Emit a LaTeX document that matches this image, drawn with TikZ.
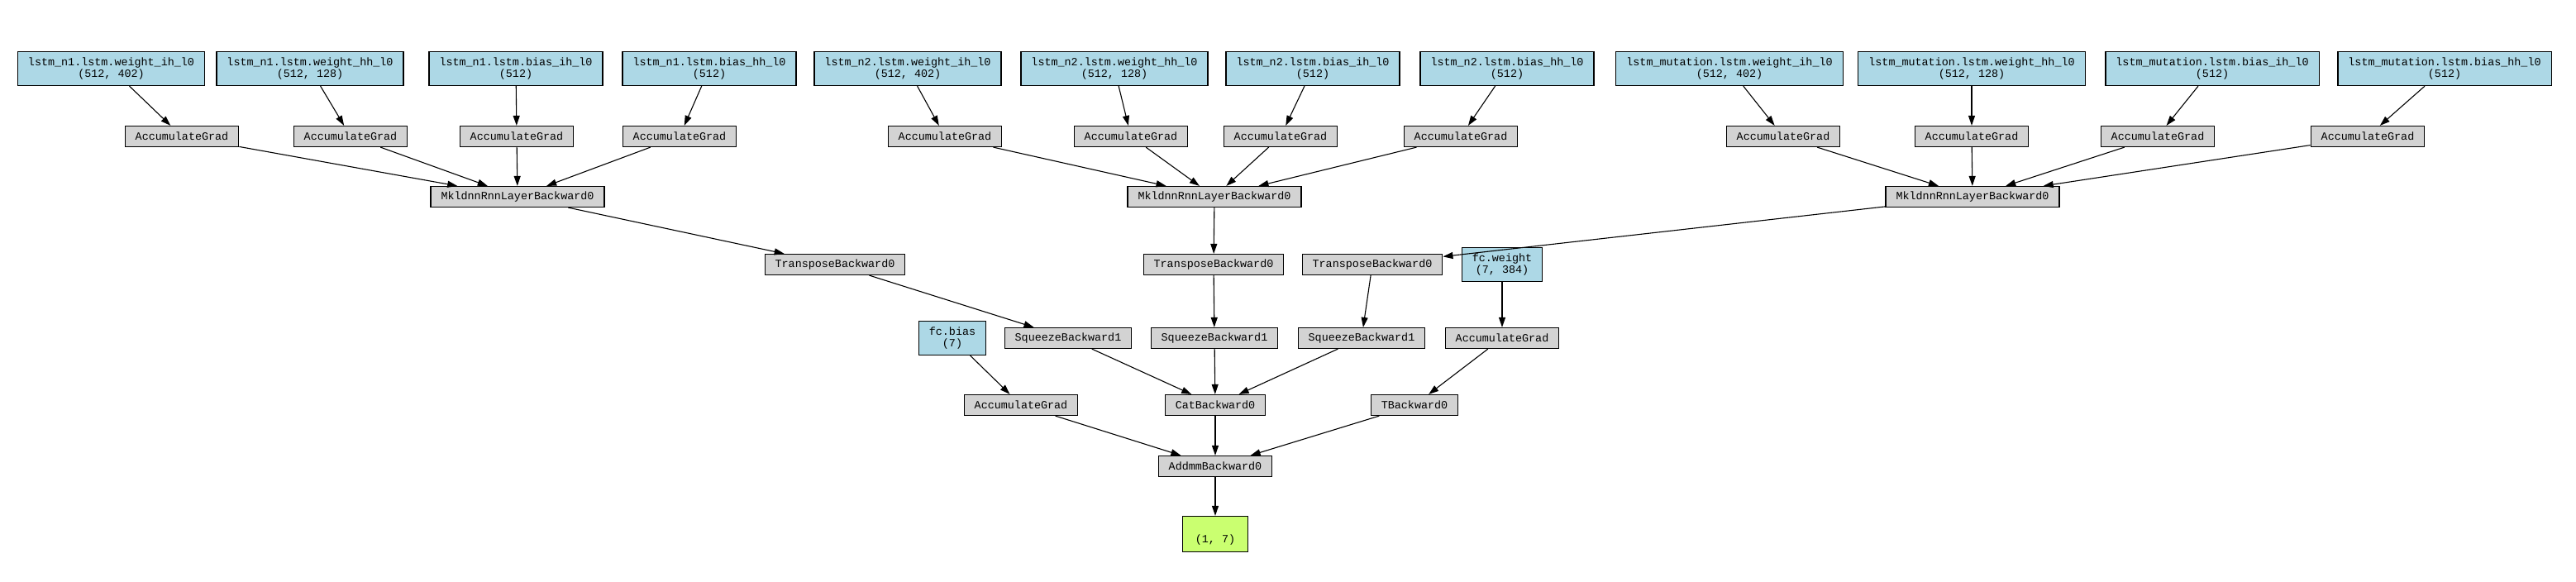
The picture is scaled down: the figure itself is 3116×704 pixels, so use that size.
\documentclass[tikz,border=0pt]{standalone}
\usepackage{fontspec}
\setmonofont{Liberation Mono}
\usetikzlibrary{arrows.meta}
\definecolor{paramblue}{HTML}{ADD8E6}
\definecolor{opgray}{HTML}{D3D3D3}
\definecolor{resgreen}{HTML}{CAFF70}

\begin{document}
\begin{tikzpicture}[x=1pt,y=-1pt,
    box/.style={draw,line width=1.2pt,align=center,inner xsep=12.5pt,inner ysep=0pt,
      minimum height=25pt,font=\ttfamily\fontsize{13.4}{14}\selectfont},
    param/.style={box,fill=paramblue,minimum height=41pt},
    gradop/.style={box,fill=opgray},
    result/.style={box,fill=resgreen,minimum width=79pt,minimum height=43pt},
    flow/.style={-{Triangle[length=12pt,width=8pt]},line width=1.1pt}]
    \useasboundingbox (0,0) rectangle (3116,704);
    % lstm_n1 参数
    \node[param] (n1wih) at (134.5,83) {lstm\_n1.lstm.weight\_ih\_l0\\(512, 402)};
    \node[param] (n1whh) at (375,83) {lstm\_n1.lstm.weight\_hh\_l0\\(512, 128)};
    \node[param] (n1bih) at (624,83) {lstm\_n1.lstm.bias\_ih\_l0\\(512)};
    \node[param] (n1bhh) at (858,83) {lstm\_n1.lstm.bias\_hh\_l0\\(512)};
    % lstm_n2 参数
    \node[param] (n2wih) at (1098,83) {lstm\_n2.lstm.weight\_ih\_l0\\(512, 402)};
    \node[param] (n2whh) at (1348,83) {lstm\_n2.lstm.weight\_hh\_l0\\(512, 128)};
    \node[param] (n2bih) at (1588,83) {lstm\_n2.lstm.bias\_ih\_l0\\(512)};
    \node[param] (n2bhh) at (1823,83) {lstm\_n2.lstm.bias\_hh\_l0\\(512)};
    % lstm_mutation 参数
    \node[param] (mwih) at (2092,83) {lstm\_mutation.lstm.weight\_ih\_l0\\(512, 402)};
    \node[param] (mwhh) at (2385,83) {lstm\_mutation.lstm.weight\_hh\_l0\\(512, 128)};
    \node[param] (mbih) at (2676,83) {lstm\_mutation.lstm.bias\_ih\_l0\\(512)};
    \node[param] (mbhh) at (2957,83) {lstm\_mutation.lstm.bias\_hh\_l0\\(512)};
    % AccumulateGrad
    \node[gradop] (ag1) at (220,165) {AccumulateGrad};
    \node[gradop] (ag2) at (424,165) {AccumulateGrad};
    \node[gradop] (ag3) at (625,165) {AccumulateGrad};
    \node[gradop] (ag4) at (822,165) {AccumulateGrad};
    \node[gradop] (ag5) at (1143,165) {AccumulateGrad};
    \node[gradop] (ag6) at (1368,165) {AccumulateGrad};
    \node[gradop] (ag7) at (1549,165) {AccumulateGrad};
    \node[gradop] (ag8) at (1767,165) {AccumulateGrad};
    \node[gradop] (ag9) at (2157,165) {AccumulateGrad};
    \node[gradop] (ag10) at (2385,165) {AccumulateGrad};
    \node[gradop] (ag11) at (2610,165) {AccumulateGrad};
    \node[gradop] (ag12) at (2864,165) {AccumulateGrad};
    % LSTM 层
    \node[gradop] (mkl1) at (626,238) {MkldnnRnnLayerBackward0};
    \node[gradop] (mkl2) at (1469,238) {MkldnnRnnLayerBackward0};
    \node[gradop] (mkl3) at (2386,238) {MkldnnRnnLayerBackward0};
    % 转置与压缩
    \node[gradop] (tr1) at (1010,320) {TransposeBackward0};
    \node[gradop] (tr2) at (1468,320) {TransposeBackward0};
    \node[gradop] (tr3) at (1660,320) {TransposeBackward0};
    \node[param] (fcw) at (1817,320) {fc.weight\\(7, 384)};
    \node[param] (fcb) at (1152,409) {fc.bias\\(7)};
    \node[gradop] (sq1) at (1292,409) {SqueezeBackward1};
    \node[gradop] (sq2) at (1469,409) {SqueezeBackward1};
    \node[gradop] (sq3) at (1647,409) {SqueezeBackward1};
    \node[gradop] (agw) at (1817,409) {AccumulateGrad};
    % 全连接层
    \node[gradop] (agb) at (1235,490) {AccumulateGrad};
    \node[gradop] (cat) at (1470,490) {CatBackward0};
    \node[gradop] (tb) at (1711,490) {TBackward0};
    \node[gradop] (addmm) at (1470,564) {AddmmBackward0};
    \node[result] (res) at (1470,646) {\phantom{(}\\(1, 7)};
    % 连线
    \draw[flow] (n1wih) -- (ag1);
    \draw[flow] (n1whh) -- (ag2);
    \draw[flow] (n1bih) -- (ag3);
    \draw[flow] (n1bhh) -- (ag4);
    \draw[flow] (n2wih) -- (ag5);
    \draw[flow] (n2whh) -- (ag6);
    \draw[flow] (n2bih) -- (ag7);
    \draw[flow] (n2bhh) -- (ag8);
    \draw[flow] (mwih) -- (ag9);
    \draw[flow] (mwhh) -- (ag10);
    \draw[flow] (mbih) -- (ag11);
    \draw[flow] (mbhh) -- (ag12);
    \draw[flow] (ag1) -- (mkl1);
    \draw[flow] (ag2) -- (mkl1);
    \draw[flow] (ag3) -- (mkl1);
    \draw[flow] (ag4) -- (mkl1);
    \draw[flow] (ag5) -- (mkl2);
    \draw[flow] (ag6) -- (mkl2);
    \draw[flow] (ag7) -- (mkl2);
    \draw[flow] (ag8) -- (mkl2);
    \draw[flow] (ag9) -- (mkl3);
    \draw[flow] (ag10) -- (mkl3);
    \draw[flow] (ag11) -- (mkl3);
    \draw[flow] (ag12) -- (mkl3);
    \draw[flow] (mkl1) -- (tr1);
    \draw[flow] (mkl2) -- (tr2);
    \draw[flow] (mkl3) -- (tr3);
    \draw[flow] (tr1) -- (sq1);
    \draw[flow] (tr2) -- (sq2);
    \draw[flow] (tr3) -- (sq3);
    \draw[flow] (fcw) -- (agw);
    \draw[flow] (fcb) -- (agb);
    \draw[flow] (sq1) -- (cat);
    \draw[flow] (sq2) -- (cat);
    \draw[flow] (sq3) -- (cat);
    \draw[flow] (agw) -- (tb);
    \draw[flow] (agb) -- (addmm);
    \draw[flow] (cat) -- (addmm);
    \draw[flow] (tb) -- (addmm);
    \draw[flow] (addmm) -- (res);
\end{tikzpicture}
\end{document}
